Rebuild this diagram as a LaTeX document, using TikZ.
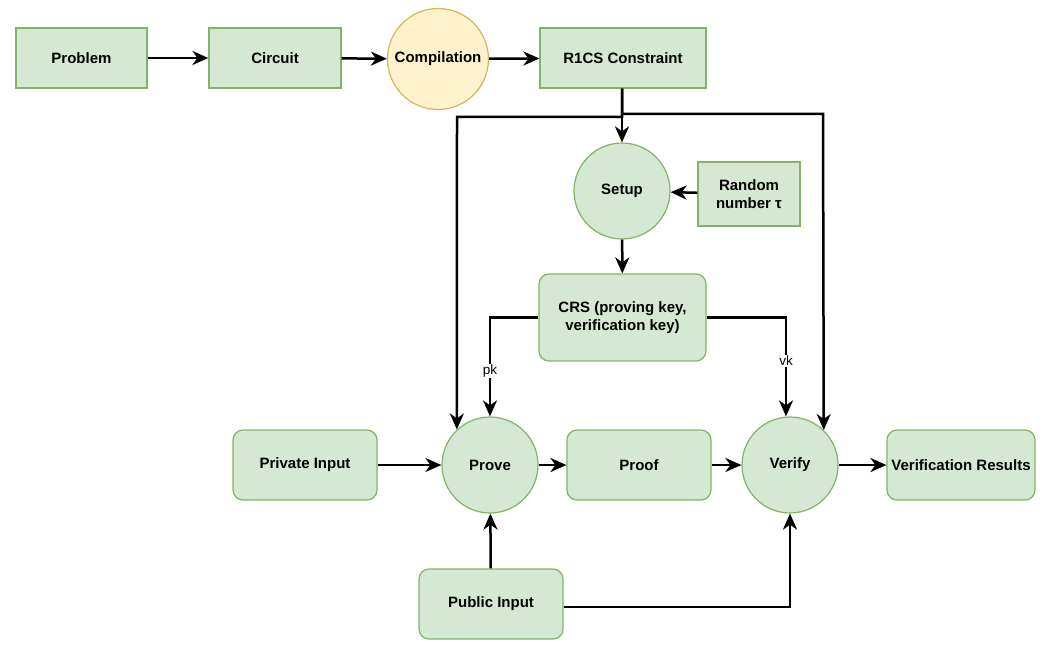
\documentclass[tikz,border=0pt]{standalone}
\usepackage{fontspec}
\setmainfont{Liberation Sans}
\usetikzlibrary{arrows.meta,positioning}
\definecolor{gfill}{HTML}{D5E8D4}
\definecolor{gdraw}{HTML}{82B366}
\definecolor{yfill}{HTML}{FFF2CC}
\definecolor{ydraw}{HTML}{D6B656}
\tikzset{
  txt/.style={font=\fontsize{15}{17.5}\selectfont\bfseries},
  box/.style={draw=gdraw,fill=gfill,line width=1.2pt,minimum width=#1,inner sep=0pt,align=center,txt},
  rbox/.style={box=#1,rounded corners=10pt},
  circ/.style={draw=gdraw,fill=gfill,line width=1.2pt,circle,minimum size=96pt,inner sep=0pt,align=center,txt},
  conn/.style={line width=2.5pt,-{Stealth[length=16pt,width=14pt,inset=5pt]}},
  lbl/.style={fill=white,inner sep=1pt,font=\fontsize{13.5}{15}\selectfont}
}
\begin{document}
\begin{tikzpicture}[x=1pt,y=-1pt]
\useasboundingbox (0,0) rectangle (1056,671);
\node[box=131pt,minimum height=60pt] (prob) at (81.5,58) {Problem};
\node[box=132pt,minimum height=60pt] (circ) at (275,58) {Circuit};
\node[draw=ydraw,fill=yfill,line width=1.2pt,circle,minimum size=101pt,inner sep=0pt,txt] (comp) at (438,59) {Compilation};
\node[box=166pt,minimum height=60pt] (r1cs) at (623,58) {R1CS Constraint};
\node[circ] (setup) at (622,191) {Setup};
\node[box=102pt,minimum height=64pt] (rand) at (749,194) {Random\\number τ};
\node[rbox=167pt,minimum height=87pt] (crs) at (622.5,317.5) {CRS (proving key,\\verification key)};
\node[circ] (prove) at (490,465) {Prove};
\node[circ] (verify) at (790,465) {Verify};
\node[rbox=144pt,minimum height=70pt] (priv) at (305,465) {Private Input};
\node[rbox=144pt,minimum height=70pt] (proof) at (639,465) {Proof};
\node[rbox=148pt,minimum height=70pt] (vres) at (961,465) {Verification Results};
\node[rbox=144pt,minimum height=70pt] (pub) at (491,604) {Public Input};
\coordinate (split) at (r1cs.south -| setup);
\coordinate (lc) at (457,117);
\coordinate (rc) at (823,114);

\draw[conn] (prob) -- (circ);
\draw[conn] (circ) -- (comp);
\draw[conn] (comp) -- (r1cs);
\draw[conn] (split) -- (setup);
\draw[conn] (split) |- (lc) -- (prove.133.4);
\draw[conn] (split) |- (rc) -- (verify.46.6);
\draw[conn] (rand) -- (setup);
\draw[conn] (setup) -- (crs);
\draw[conn] (crs.west) -| node[lbl,pos=0.77] {pk} (prove.north);
\draw[conn] (crs.east) -| node[lbl,pos=0.72] {vk} (verify.north -| 786,0);
\draw[conn] (priv) -- (prove);
\draw[conn] (prove) -- (proof);
\draw[conn] (proof) -- (verify);
\draw[conn] (verify) -- (vres);
\draw[conn] (pub) -- (prove);
\draw[conn] (pub.east |- 0,607) -| (verify.south);
\end{tikzpicture}
\end{document}
